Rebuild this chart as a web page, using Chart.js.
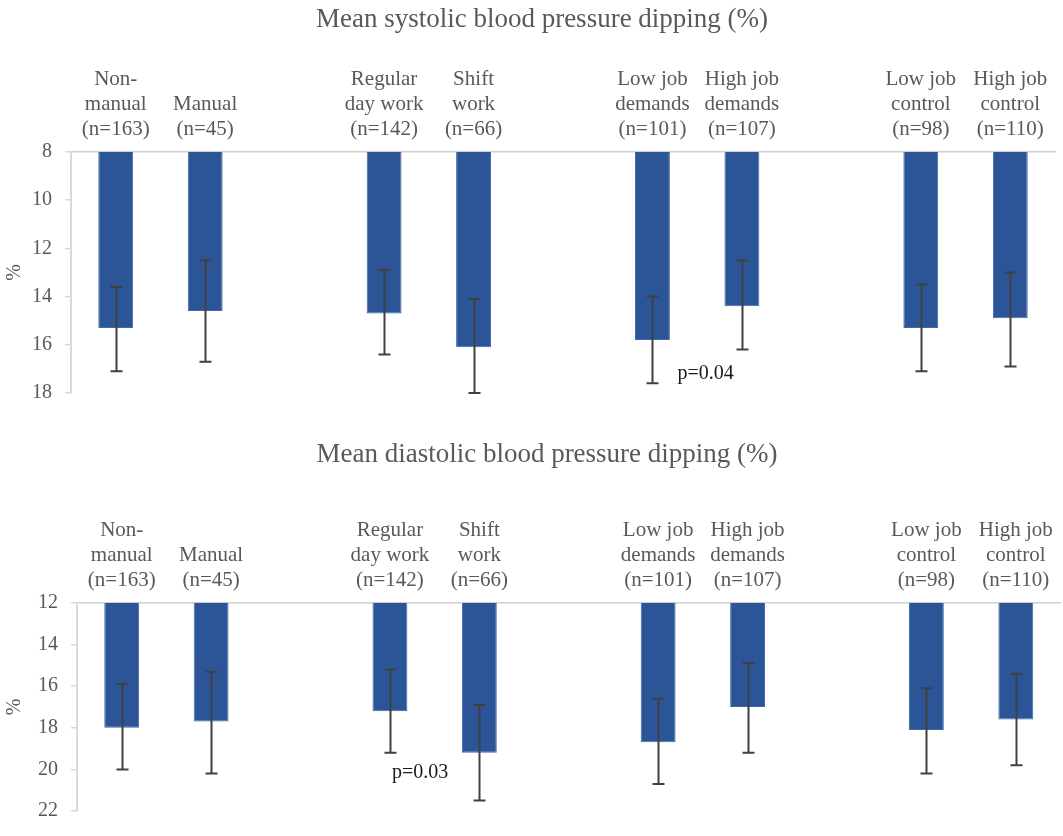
<!DOCTYPE html>
<html><head><meta charset="utf-8">
<script src="https://cdn.jsdelivr.net/npm/chart.js@4.4.1/dist/chart.umd.min.js"></script>
<style>
html,body{margin:0;padding:0;background:#fff;}
#wrap{position:relative;width:1063px;height:836px;overflow:hidden;}
canvas{position:absolute;left:0;}
</style></head><body>
<div id="wrap">
<canvas id="top" width="1063" height="418" style="top:0"></canvas>
<canvas id="bot" width="1063" height="418" style="top:418px"></canvas>
</div>
<script>
// ---- data ----
const categories = [["Non-","manual","(n=163)"],["Manual","(n=45)"],"",["Regular","day work","(n=142)"],["Shift","work","(n=66)"],"",["Low job","demands","(n=101)"],["High job","demands","(n=107)"],"",["Low job","control","(n=98)"],["High job","control","(n=110)"]];
const systolicMean = [15.3,14.6,null,14.7,16.1,null,15.8,14.4,null,15.3,14.9];
const systolicLow  = [13.6,12.5,null,12.9,14.1,null,14.0,12.5,null,13.5,13.0];
const systolicHigh = [17.1,16.7,null,16.4,18.0,null,17.6,16.2,null,17.1,16.9];
const diastolicMean = [18.0,17.7,null,17.2,19.2,null,18.7,17.0,null,18.1,17.6];
const diastolicLow  = [15.9,15.3,null,15.2,16.9,null,16.6,14.9,null,16.1,15.4];
const diastolicHigh = [20.0,20.2,null,19.2,21.5,null,20.7,19.2,null,20.2,19.8];
const systolicRange = [8,18,2];
const diastolicRange = [12,22,2];
const titles = ["Mean systolic blood pressure dipping (%)","Mean diastolic blood pressure dipping (%)"];
const pTexts = ["p=0.04","p=0.03"];
const pIndex = [6,3];
const pValue = [17.22,20.15];

// ---- styling ----
const SERIF = '"Liberation Serif","Times New Roman",serif';
const GRAY = '#595959';
const AXIS = '#d9d9d9';
const BAR = '#2c5597';

const errorBars = {
  id:'errorBars',
  afterDatasetsDraw(chart, args, opts){
    const ctx = chart.ctx, xs = chart.scales.x, ys = chart.scales.y;
    ctx.save();
    ctx.strokeStyle = '#404040'; ctx.lineWidth = 2;
    opts.low.forEach((lo, i) => {
      const hi = opts.high[i];
      if (lo == null || hi == null) return;
      const x = Math.round(xs.getPixelForValue(i)) + 0.5;
      const y1 = ys.getPixelForValue(lo), y2 = ys.getPixelForValue(hi);
      ctx.beginPath();
      ctx.moveTo(x, y1); ctx.lineTo(x, y2);
      ctx.moveTo(x-6, y1); ctx.lineTo(x+6, y1);
      ctx.moveTo(x-6, y2); ctx.lineTo(x+6, y2);
      ctx.stroke();
    });
    // p-value note
    ctx.fillStyle = '#1a1a1a';
    ctx.font = '20px ' + SERIF;
    ctx.textBaseline = 'middle'; ctx.textAlign = 'left';
    ctx.fillText(opts.pText, xs.getPixelForValue(opts.pIndex) + opts.pDx, ys.getPixelForValue(opts.pValue));
    // title
    ctx.fillStyle = GRAY;
    ctx.font = '27px ' + SERIF;
    ctx.textAlign = 'center';
    ctx.fillText(opts.title, opts.titleX, opts.titleY);
    ctx.restore();
  }
};

function makeChart(id, mean, low, high, range, k, geom){
  return new Chart(document.getElementById(id), {
    type:'bar',
    data:{ labels: categories, datasets:[{ data: mean, backgroundColor: BAR, borderColor:'#4068ad', borderWidth:1,
      categoryPercentage:1, barPercentage:0.39 }]},
    plugins:[errorBars],
    options:{
      responsive:false, animation:false, devicePixelRatio:1,
      layout:{ padding:{ left:0, right:geom.right, top:0, bottom:geom.bottom } },
      plugins:{ legend:{display:false}, tooltip:{enabled:false}, title:{display:false},
        errorBars:{ low, high, pText:pTexts[k], pIndex:pIndex[k], pValue:pValue[k], pDx:geom.pDx,
          title:titles[k], titleX:geom.titleX, titleY:geom.titleY } },
      scales:{
        x:{ position:'top', offset:true,
          grid:{ display:false, drawTicks:false },
          border:{ display:true, color:'#cfcfcf', width:1.5 },
          ticks:{ color:GRAY, font:{ family:SERIF, size:21, lineHeight:1.2 }, padding:10, autoSkip:false, maxRotation:0 },
          afterFit(s){ s.height = geom.top; } },
        y:{ reverse:true, min:range[0], max:range[1],
          grid:{ drawOnChartArea:false, drawTicks:true, tickLength:6, color:AXIS, lineWidth:1.5 },
          border:{ display:true, color:AXIS, width:2 },
          ticks:{ stepSize:range[2], color:GRAY, font:{ family:SERIF, size:20 }, padding:13 },
          title:{ display:true, text:'%', color:GRAY, font:{ family:SERIF, size:20 }, padding:{top:3,bottom:0} },
          afterFit(s){ s.width = geom.left; } }
      }
    }
  });
}

makeChart('top', systolicMean, systolicLow, systolicHigh, systolicRange, 0,
  { left:71, right:8, top:152, bottom:18, pDx:25, titleX:542, titleY:20 });
makeChart('bot', diastolicMean, diastolicLow, diastolicHigh, diastolicRange, 1,
  { left:77, right:2.5, top:185, bottom:2, pDx:2, titleX:547, titleY:37 });
</script>
</body></html>
